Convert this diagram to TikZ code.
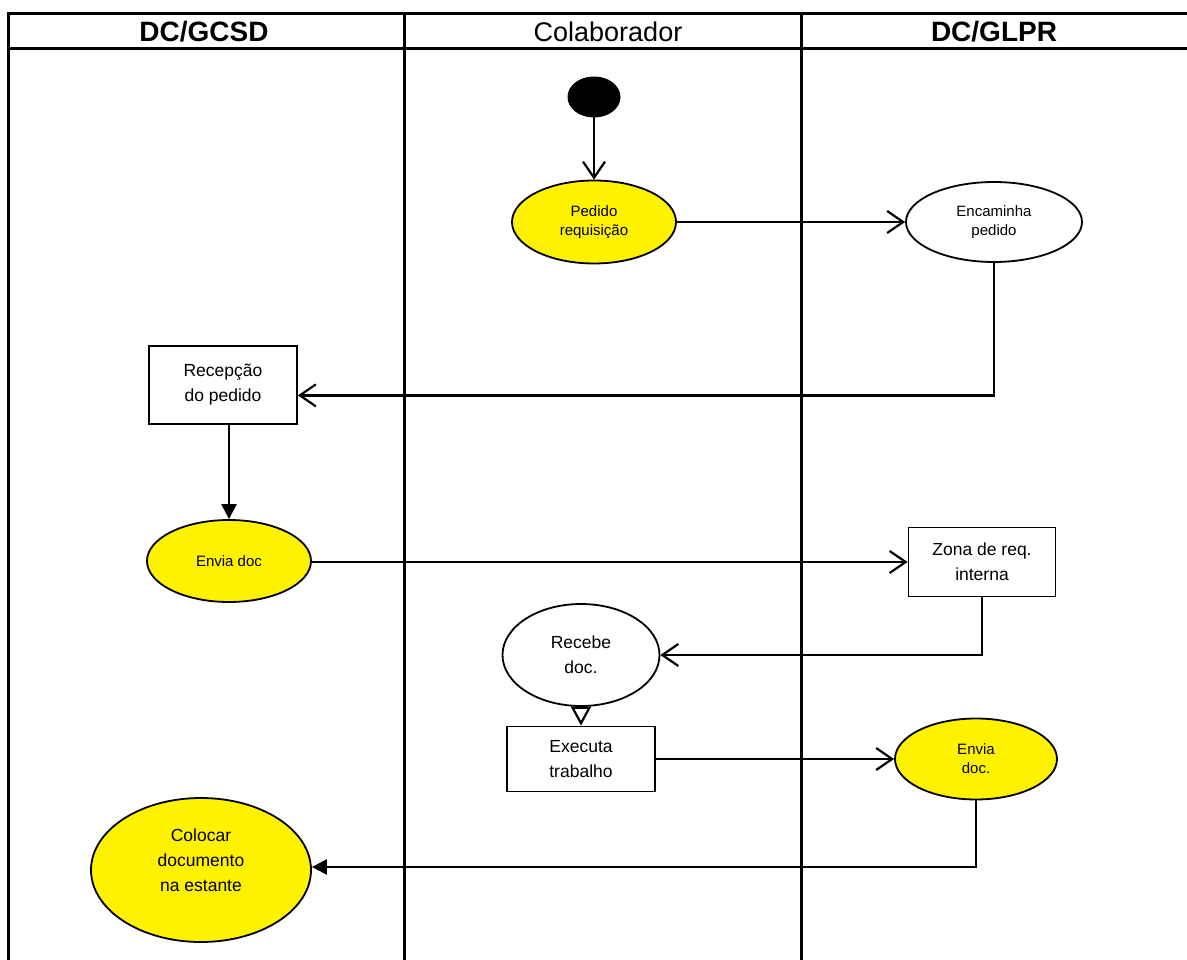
\documentclass[tikz,border=0pt]{standalone}
\usepackage{fontspec}
\setmainfont{Liberation Sans}
\usetikzlibrary{shapes.geometric,arrows.meta,calc}

\tikzset{
  grid/.style={line width=3pt, line cap=rect},
  act/.style={ellipse, draw, line width=1.8pt, inner sep=0pt, align=center},
  yel/.style={act, fill=yellow},
  wht/.style={act, fill=white},
  boxnode/.style={rectangle, draw, line width=1.8pt, fill=white, inner sep=0pt, align=center},
  conn/.style={line width=2.4pt},
  openarr/.style={conn, -{Straight Barb[length=16pt, width=22pt, line width=2.2pt]}},
  fillarr/.style={conn, -{Triangle[length=15pt, width=15pt]}},
  hollowarr/.style={conn, -{Triangle[open, length=19pt, width=20pt, line width=2.2pt]}},
  small/.style={font=\fontsize{15}{19}\selectfont},
  big/.style={font=\fontsize{17.5}{25}\selectfont},
  head/.style={font=\fontsize{27}{30}\selectfont},
  headb/.style={font=\fontsize{28}{30}\selectfont\bfseries},
}

\begin{document}
\begin{tikzpicture}[x=1pt, y=-1pt]
\useasboundingbox (0,0) rectangle (1187,960);

% swimlane frame
\draw[grid] (8,14) -- (1187,14);
\draw[grid] (8,49) -- (1187,49);
\draw[grid] (8,14) -- (8,962);
\draw[grid] (404,14) -- (404,962);
\draw[grid] (801,14) -- (801,962);

% lane titles
\node[headb] (l1) at (204,32) {DC/GCSD};
\node[head] (l2) at (608,32) {Colaborador};
\node[headb] (l3) at (994,32) {DC/GLPR};

% activities
\node[ellipse, fill=black, draw, line width=1pt, minimum width=52pt, minimum height=40pt, inner sep=0pt] (start) at (594,97) {};
\node[yel, small, minimum width=164pt, minimum height=83pt] (pedido) at (594,222) {Pedido\\requisição};
\node[wht, small, minimum width=176pt, minimum height=80pt] (enc) at (994,222) {Encaminha\\pedido};
\node[boxnode, big, minimum width=148pt, minimum height=78pt] (recep) at (223,385) {Recepção\\do pedido};
\node[yel, small, minimum width=164pt, minimum height=82pt] (envia) at (229,561) {Envia doc};
\node[boxnode, big, minimum width=147pt, minimum height=69pt] (zona) at (982,562) {Zona de req.\\interna};
\node[wht, big, minimum width=157pt, minimum height=102pt] (recebe) at (581,655) {Recebe\\doc.};
\node[boxnode, big, minimum width=148pt, minimum height=65pt] (exec) at (581,759) {Executa\\trabalho};
\node[yel, small, minimum width=162pt, minimum height=81pt] (envia2) at (976,759) {Envia\\doc.};
\node[yel, big, minimum width=220pt, minimum height=144pt] (coloc) at (201,870) {Colocar\\documento\\na estante\\[-6pt]};

% flow
\draw[openarr] (start) -- (pedido);
\draw[openarr] (pedido.east) -- (enc.west);
\coordinate (recepin) at ($(recep.north east)!0.63!(recep.south east)$);
\draw[openarr] (enc.south) |- (recepin);
\draw[fillarr] (envia.north |- recep.south) -- (envia.north);
\draw[openarr] (envia.east |- zona.west) -- (zona.west);
\draw[openarr] (zona.south) |- (recebe.east);
\draw[hollowarr] (recebe.south) -- (exec.north);
\draw[openarr] (exec.east) -- (envia2.west);
\coordinate (colin) at ($(coloc.east)+(0,-3)$);
\draw[fillarr] (envia2.south) |- (colin);
\end{tikzpicture}
\end{document}
